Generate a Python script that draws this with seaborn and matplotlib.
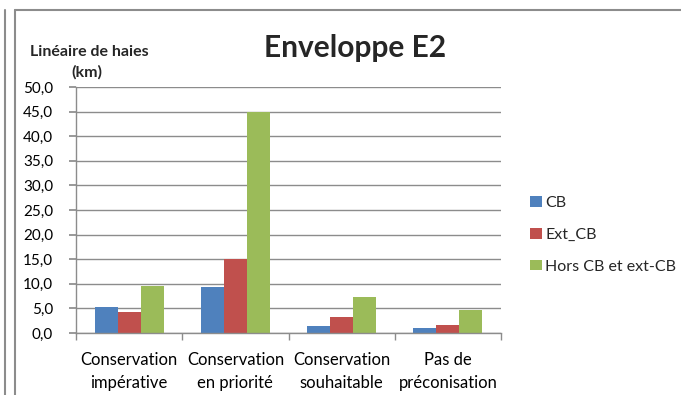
import matplotlib
matplotlib.use("Agg")
import matplotlib.pyplot as plt
import seaborn as sns
import pandas as pd
from matplotlib.lines import Line2D
from matplotlib.patches import Patch
from matplotlib.ticker import FuncFormatter, FixedLocator

categories = ["Conservation\nimpérative", "Conservation\nen priorité",
              "Conservation\nsouhaitable", "Pas de\npréconisation"]
series = ["CB", "Ext_CB", "Hors CB et ext-CB"]
cb = [5.3, 9.3, 1.4, 1.1]
ext_cb = [4.2, 15.0, 3.3, 1.7]
hors = [9.6, 44.9, 7.4, 4.7]
colors = ["#4F81BD", "#C0504D", "#9BBB59"]
yticks = [0, 5, 10, 15, 20, 25, 30, 35, 40, 45, 50]

rows = []
for s, vals in zip(series, [cb, ext_cb, hors]):
    for c, v in zip(categories, vals):
        rows.append({"cat": c, "serie": s, "val": v})
df = pd.DataFrame(rows)

sns.set_theme(style="white")
plt.rcParams["font.family"] = ["Lato", "DejaVu Sans"]

fig = plt.figure(figsize=(6.81, 3.95), dpi=100)
W, H = 681, 395
ax = fig.add_axes([76 / W, 1 - 333 / H, (501 - 76) / W, (333 - 87) / H])

sns.barplot(data=df, x="cat", y="val", hue="serie", order=categories,
            hue_order=series, palette=colors, width=0.65, gap=0,
            saturation=1, linewidth=0, ax=ax, legend=False, errorbar=None)

ax.set_xlim(-0.5, 3.5)
ax.set_ylim(0, 50)
ax.set_yticks(yticks)
ax.yaxis.set_major_formatter(FuncFormatter(lambda v, p: f"{v:.1f}".replace(".", ",")))
ax.yaxis.grid(True, color="#8C8C8C", linewidth=1)
ax.set_axisbelow(True)
ax.set_xlabel("")
ax.set_ylabel("")
for s in ["top", "right"]:
    ax.spines[s].set_visible(False)
for s in ["left", "bottom"]:
    ax.spines[s].set_color("#8C8C8C")
    ax.spines[s].set_linewidth(1)
ax.tick_params(axis="y", length=5, color="#8C8C8C", labelsize=11, pad=11.5,
               labelcolor="black", left=True, direction="out")
ax.set_xticks(range(len(categories)))
ax.set_xticklabels(categories, fontsize=12, linespacing=1.5)
ax.tick_params(axis="x", which="major", length=0, pad=14, labelcolor="black")
ax.xaxis.set_minor_locator(FixedLocator([-0.5, 0.5, 1.5, 2.5, 3.5]))
ax.tick_params(axis="x", which="minor", length=5, color="#8C8C8C", bottom=True, direction="out")

fig.text(355 / W, 1 - 48 / H, "Enveloppe E2", ha="center", va="center",
         fontsize=21.5, fontweight="bold")
fig.text(89 / W, 1 - 52 / H, "Linéaire de haies", ha="center", va="center",
         fontsize=11.5, fontweight="bold")
fig.text(87 / W, 1 - 72 / H, "(km)", ha="center", va="center",
         fontsize=11.5, fontweight="bold")

handles = [Patch(facecolor=c, edgecolor="none") for c in colors]
fig.legend(handles, series, loc="center left", bbox_to_anchor=(530 / W, 1 - 235 / H),
           frameon=False, fontsize=11.5, handlelength=0.75, handleheight=0.62,
           handletextpad=0.2, labelspacing=1.12, borderaxespad=0, borderpad=0)

# frame lines
fig.add_artist(Line2D([5 / W, 5 / W], [0, 1 - 10 / H], transform=fig.transFigure,
                      color="#8C8C8C", linewidth=1.5))
fig.add_artist(Line2D([15 / W, 15 / W], [0, 1 - 10 / H], transform=fig.transFigure,
                      color="#8C8C8C", linewidth=1.5))
fig.add_artist(Line2D([15 / W, 1], [1 - 10 / H, 1 - 10 / H], transform=fig.transFigure,
                      color="#8C8C8C", linewidth=1.5))

fig.savefig("out.png", dpi=100)
